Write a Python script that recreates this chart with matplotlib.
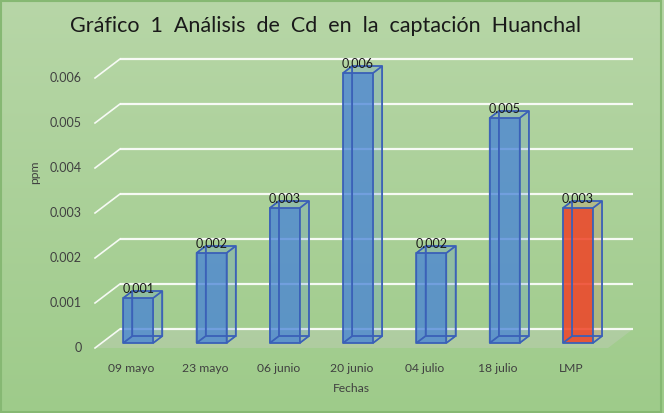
import numpy as np
import matplotlib
matplotlib.use('Agg')
import matplotlib.pyplot as plt
from matplotlib.patches import Polygon, Rectangle

# ---- data ----
categories = ['09 mayo', '23 mayo', '06 junio', '20 junio', '04 julio', '18 julio', 'LMP']
values = [0.001, 0.002, 0.003, 0.006, 0.002, 0.005, 0.003]
value_labels = ['0.001', '0.002', '0.003', '0.006', '0.002', '0.005', '0.003']
is_limit = [False, False, False, False, False, False, True]
yticks = [0, 0.001, 0.002, 0.003, 0.004, 0.005, 0.006]
ytick_labels = ['0', '0.001', '0.002', '0.003', '0.004', '0.005', '0.006']
title = 'Gráfico  1  Análisis  de  Cd  en  la  captación  Huanchal'
xlabel = 'Fechas'
ylabel = 'ppm'

FONT = ['Lato', 'DejaVu Sans']
plt.rcParams['font.family'] = FONT

W, H = 664, 413
fig = plt.figure(figsize=(W / 100, H / 100), dpi=100)

# background gradient
bg = fig.add_axes([0, 0, 1, 1], zorder=-10)
g = np.linspace(0, 1, 256)[:, None, None]
top = np.array([183, 214, 167]) / 255
bot = np.array([158, 203, 138]) / 255
img = top * (1 - g) + bot * g
bg.imshow(img, aspect='auto', extent=[0, 1, 0, 1])
bg.set_xlim(0, 1)
bg.set_ylim(0, 1)
bg.axis('off')
bg.add_patch(Rectangle((0.002, 0.002), 0.994, 0.996, fill=False,
                       edgecolor='#86b873', lw=1.5, transform=bg.transAxes))

# main axes (front plane)
ax = fig.add_axes([95 / W, (H - 348) / H, 513 / W, 315 / H])
ax.set_xlim(-0.5, 6.5)
ax.set_ylim(0, 0.007)
ax.axis('off')

px_x = 513 / 7.0          # pixels per category
px_y = 315 / 0.007        # pixels per ppm
Dx, Dy = 25 / px_x, 19 / px_y   # depth vector (full depth)
df, db = 0.263, 0.63            # bar front/back depth fraction
bw = 30 / px_x                   # bar width

# floor
ax.add_patch(Polygon([(-0.5, 0), (6.5, 0), (6.5 + Dx, Dy), (-0.5 + Dx, Dy)],
                     closed=True, facecolor='#c9cec4', alpha=0.35, edgecolor='none',
                     zorder=1, clip_on=False))

# gridlines: back wall + left-wall diagonals
for t in yticks:
    ax.plot([-0.5 + Dx, 6.5 + Dx], [t + Dy, t + Dy], color='white', lw=1.6,
            alpha=0.9, zorder=2, clip_on=False, solid_capstyle='butt')
    ax.plot([-0.5, -0.5 + Dx], [t, t + Dy], color='white', lw=1.2,
            alpha=0.9, zorder=2, clip_on=False)

# bars
blue = '#4682d7'
red = '#ef4327'
edge = '#3a60b8'
for i, (v, lim) in enumerate(zip(values, is_limit)):
    col = red if lim else blue
    xl, xr = i - bw / 2, i + bw / 2

    def P(x, y, d):
        return (x + d * Dx, y + d * Dy)

    faces = {
        'back':   [P(xl, 0, db), P(xr, 0, db), P(xr, v, db), P(xl, v, db)],
        'left':   [P(xl, 0, df), P(xl, 0, db), P(xl, v, db), P(xl, v, df)],
        'bottom': [P(xl, 0, df), P(xr, 0, df), P(xr, 0, db), P(xl, 0, db)],
        'right':  [P(xr, 0, df), P(xr, 0, db), P(xr, v, db), P(xr, v, df)],
        'top':    [P(xl, v, df), P(xr, v, df), P(xr, v, db), P(xl, v, db)],
        'front':  [P(xl, 0, df), P(xr, 0, df), P(xr, v, df), P(xl, v, df)],
    }
    for name, pts in faces.items():
        if name == 'front':
            a = 0.85 if lim else 0.74
        elif name in ('right', 'top'):
            a = 0.10 if lim else 0.18
        else:
            a = 0.05
        ax.add_patch(Polygon(pts, closed=True, facecolor=col, alpha=a,
                             edgecolor='none', zorder=3, clip_on=False))
        ax.add_patch(Polygon(pts, closed=True, fill=False, edgecolor=edge,
                             lw=1.1, alpha=0.9, zorder=4, clip_on=False))
    ax.annotate(value_labels[i], (i + df * Dx, v), xytext=(0, 8),
                textcoords='offset pixels', ha='center', va='bottom',
                fontsize=9, color='#1a1a1a', zorder=5, annotation_clip=False)

# tick labels
for t, lab in zip(yticks, ytick_labels):
    ax.annotate(lab, (-0.5, t), xytext=(-13, 0), textcoords='offset pixels',
                ha='right', va='center', fontsize=9, color='#404040',
                annotation_clip=False)
for i, lab in enumerate(categories):
    ax.annotate(lab, (i, 0), xytext=(0, -20), textcoords='offset pixels',
                ha='center', va='center', fontsize=8.7, color='#404040',
                annotation_clip=False)

fig.text(351 / W, 1 - 388 / H, xlabel, ha='center', va='center', fontsize=8.7, color='#404040')
fig.text(35 / W, 1 - 172 / H, ylabel, ha='center', va='center', fontsize=8.7,
         color='#404040', rotation=90)
fig.text(326 / W, 1 - 26 / H, title, ha='center', va='center', fontsize=15.5,
         color='#1a1a1a')

fig.savefig('out.png', dpi=100)
